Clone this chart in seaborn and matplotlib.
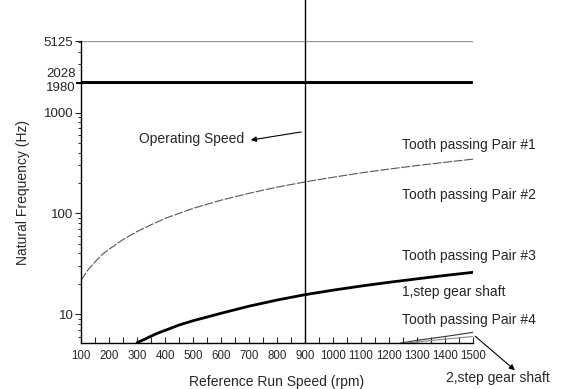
import numpy as np
import pandas as pd
import matplotlib
matplotlib.use("Agg")
import matplotlib.pyplot as plt
import matplotlib.ticker as mticker
import seaborn as sns

# ---- data ----
rpm_pair1 = [100, 125, 150, 175, 200, 250, 300, 350, 400, 500, 600, 700, 800, 900,
             1000, 1100, 1200, 1300, 1400, 1500]
hz_pair1 = [21.7, 27.5, 33, 39, 44, 55, 66, 77, 89, 112, 135, 158, 182, 205,
            228, 252, 275, 298, 321, 345]

rpm_pair3 = [300, 325, 350, 375, 400, 450, 500, 600, 700, 800, 900, 1000, 1100, 1200, 1300, 1400, 1500]
hz_pair3 = [5.2, 5.6, 6.05, 6.5, 6.9, 7.8, 8.6, 10.2, 12.0, 13.8, 15.6, 17.3, 19.0, 20.7, 22.4, 24.2, 26.0]

rpm_pair4 = [1240, 1300, 1400, 1500]
hz_pair4 = [5.15, 5.5, 6.0, 6.6]

rpm_shaft2 = [1260, 1300, 1400, 1500]
hz_shaft2 = [5.15, 5.3, 5.65, 6.0]

rpm_range = [100, 1500]
shaft_levels = [5125, 2028, 1980]
operating_speed = 900

yticks = [10, 100, 1000, 5125]
ytick_labels = ["10", "100", "1000", "5125"]
xticks = [100, 200, 300, 400, 500, 600, 700, 800, 900, 1000, 1100, 1200, 1300, 1400, 1500]

# ---- figure ----
sns.set_style("ticks")
plt.rcParams["font.family"] = ["Liberation Sans", "DejaVu Sans"]

fig = plt.figure(figsize=(5.63, 3.89), dpi=100)
ax = fig.add_axes([0.1439, 0.1175, 0.6963, 0.7771])

# horizontal shaft frequency lines
for lvl, col, lw in zip(shaft_levels, ["#9a9a9a", "black", "black"], [1.0, 1.4, 1.4]):
    df = pd.DataFrame({"rpm": rpm_range, "hz": [lvl, lvl]})
    sns.lineplot(data=df, x="rpm", y="hz", ax=ax, color=col, lw=lw)

sns.lineplot(data=pd.DataFrame({"rpm": rpm_pair1, "hz": hz_pair1}), x="rpm", y="hz",
             ax=ax, color="#555555", lw=0.8, linestyle=(0, (8, 1.5)))
sns.lineplot(data=pd.DataFrame({"rpm": rpm_pair3, "hz": hz_pair3}), x="rpm", y="hz",
             ax=ax, color="black", lw=2.0)
sns.lineplot(data=pd.DataFrame({"rpm": rpm_pair4, "hz": hz_pair4}), x="rpm", y="hz",
             ax=ax, color="#333333", lw=0.8)
sns.lineplot(data=pd.DataFrame({"rpm": rpm_shaft2, "hz": hz_shaft2}), x="rpm", y="hz",
             ax=ax, color="#888888", lw=0.8)

# operating speed vertical line (extends above axes)
ax.axvline(operating_speed, ymin=0, ymax=1.14, color="black", lw=1.0, clip_on=False)

ax.set_yscale("log")
ax.set_xlim(100, 1500)
ax.set_ylim(5.14, 5125)

ax.set_xticks(xticks)
ax.set_xticklabels([str(v) for v in xticks], fontsize=8.3)
ax.xaxis.set_minor_locator(mticker.MultipleLocator(50))
ax.tick_params(axis="x", which="both", direction="in", length=4, width=0.8, pad=5)

ax.yaxis.set_major_locator(mticker.FixedLocator(yticks))
ax.yaxis.set_major_formatter(mticker.FixedFormatter(ytick_labels))
ax.yaxis.set_minor_locator(mticker.LogLocator(base=10, subs=np.arange(2, 10)))
ax.yaxis.set_minor_formatter(mticker.NullFormatter())
ax.tick_params(axis="y", which="major", direction="out", length=4, width=0.8,
               labelsize=9.5, pad=1.5)
ax.tick_params(axis="y", which="minor", direction="out", length=2.5, width=0.7)

for lvl, dy in [(2028, 5.5), (1980, -4)]:
    ax.annotate(str(lvl), xy=(0, lvl), xycoords=("axes fraction", "data"),
                xytext=(-4, dy), textcoords="offset points", ha="right", va="center",
                fontsize=9.5)
    ax.plot([0, -0.012], [lvl, lvl], transform=ax.get_yaxis_transform(), color="black",
            lw=0.8, clip_on=False)

sns.despine(ax=ax)
for s in ["left", "bottom"]:
    ax.spines[s].set_linewidth(1.0)
    ax.spines[s].set_color("black")

ax.set_xlabel("Reference Run Speed (rpm)", fontsize=10, labelpad=9)
ax.set_ylabel("Natural Frequency (Hz)", fontsize=10, labelpad=10)

# annotations
ax.annotate("", xy=(248, 389 - 140.5), xycoords="figure pixels",
            xytext=(304, 389 - 131.5), textcoords="figure pixels",
            arrowprops=dict(arrowstyle="-|>", color="black", lw=0.8, mutation_scale=8))
fig.text(244 / 563, 1 - 139 / 389, "Operating Speed", ha="right", va="center", fontsize=10)

labels = [
    ("Tooth passing Pair #1", 145),
    ("Tooth passing Pair #2", 195),
    ("Tooth passing Pair #3", 256),
    ("1,step gear shaft", 292),
    ("Tooth passing Pair #4", 320),
]
for txt, ypx in labels:
    fig.text(402 / 563, 1 - ypx / 389, txt, ha="left", va="center", fontsize=10)

ax.annotate("", xy=(517, 389 - 372), xycoords="figure pixels",
            xytext=(1500, 6.3), textcoords="data",
            arrowprops=dict(arrowstyle="-|>", color="black", lw=0.8, mutation_scale=8))
fig.text(446 / 563, 1 - 378 / 389, "2,step gear shaft", ha="left", va="center", fontsize=10)

fig.savefig("out.png", dpi=100)
